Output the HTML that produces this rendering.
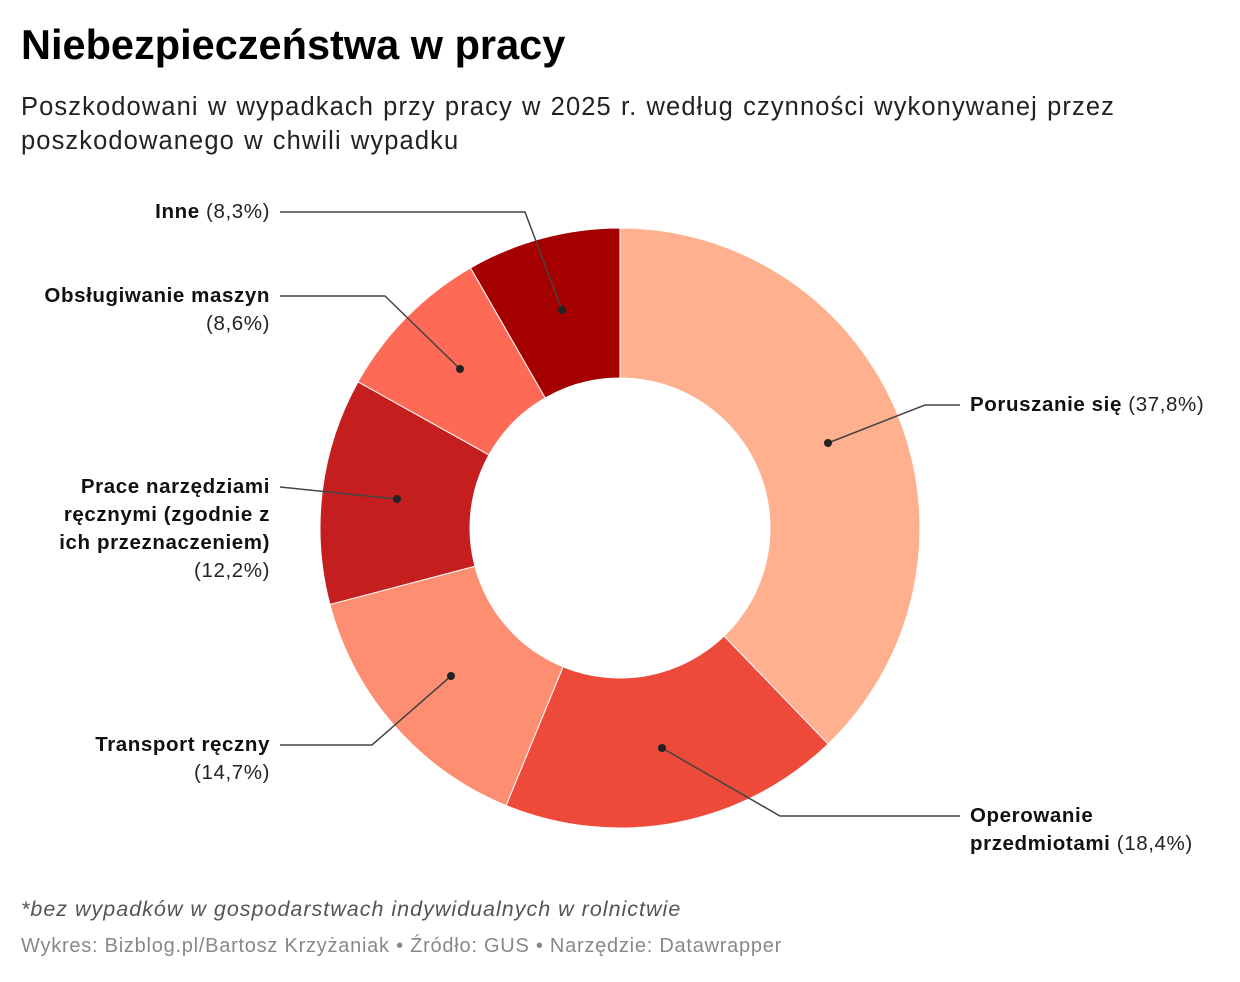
<!DOCTYPE html>
<html><head><meta charset="utf-8"><style>
body{margin:0;width:1240px;height:982px;background:#fff;font-family:"Liberation Sans",sans-serif;position:relative;overflow:hidden}
.t{position:absolute;left:21px;top:21px;font-size:41.5px;font-weight:bold;color:#000;letter-spacing:0px}
.s{position:absolute;left:21px;top:90px;font-size:25.5px;line-height:34px;color:#222;width:1120px;letter-spacing:1.1px;word-spacing:1px}
.l{position:absolute;font-size:20.5px;line-height:28px;color:#222;letter-spacing:0.6px}
.l b{color:#111}
.r{text-align:right}
.n{position:absolute;left:21px;top:897px;font-size:21.5px;font-style:italic;color:#555;letter-spacing:1px}
.f{position:absolute;left:21px;top:935px;font-size:20px;color:#888;letter-spacing:0.75px}
</style></head><body>
<div class="t">Niebezpieczeństwa w pracy</div>
<div class="s">Poszkodowani w wypadkach przy pracy w 2025 r. według czynności wykonywanej przez poszkodowanego w chwili wypadku</div>
<svg id="c" width="1240" height="982" style="position:absolute;left:0;top:0">
<g id="sl"></g>
<g fill="none" stroke="#444" stroke-width="1.5">
<polyline points="280,212 525,212 562,310"/>
<polyline points="280,296 385,296 460,369"/>
<polyline points="280,487 397,499"/>
<polyline points="280,745 372,745 451,676"/>
<polyline points="662,748 780,816 960,816"/>
<polyline points="828,443 925,405 960,405"/>
</g>
<g fill="#222"><circle cx="562" cy="310" r="4"/><circle cx="460" cy="369" r="4"/><circle cx="397" cy="499" r="4"/><circle cx="451" cy="676" r="4"/><circle cx="662" cy="748" r="4"/><circle cx="828" cy="443" r="4"/></g>
</svg>
<div class="l r" style="right:970px;top:198px"><b>Inne</b> (8,3%)</div>
<div class="l r" style="right:970px;top:282px"><b>Obsługiwanie maszyn</b><br>(8,6%)</div>
<div class="l r" style="right:970px;top:473px;width:260px"><b>Prace narzędziami<br>ręcznymi (zgodnie z<br>ich przeznaczeniem)</b><br>(12,2%)</div>
<div class="l r" style="right:970px;top:731px"><b>Transport ręczny</b><br>(14,7%)</div>
<div class="l" style="left:970px;top:391px"><b>Poruszanie się</b> (37,8%)</div>
<div class="l" style="left:970px;top:802px"><b>Operowanie<br>przedmiotami</b> (18,4%)</div>
<div class="n">*bez wypadków w gospodarstwach indywidualnych w rolnictwie</div>
<div class="f">Wykres: Bizblog.pl/Bartosz Krzyżaniak • Źródło: GUS • Narzędzie: Datawrapper</div>
<script>
var d=[[37.8,"#feb08f"],[18.4,"#ee4a3a"],[14.7,"#fe8e72"],[12.2,"#c51e1e"],[8.6,"#fe6a55"],[8.3,"#a50000"]];
var cx=620,cy=528,R=300,r=150,a=0,h="";
function p(rad,ang){var t=ang*Math.PI/180;return (cx+rad*Math.sin(t)).toFixed(2)+","+(cy-rad*Math.cos(t)).toFixed(2);}
d.forEach(function(s){var b=a+s[0]*3.6,lg=(b-a)>180?1:0;
h+='<path fill="'+s[1]+'" stroke="#fff" stroke-width="1" d="M'+p(R,a)+' A'+R+','+R+' 0 '+lg+' 1 '+p(R,b)+' L'+p(r,b)+' A'+r+','+r+' 0 '+lg+' 0 '+p(r,a)+' Z"/>';a=b;});
document.getElementById("sl").innerHTML=h;
</script>
</body></html>
